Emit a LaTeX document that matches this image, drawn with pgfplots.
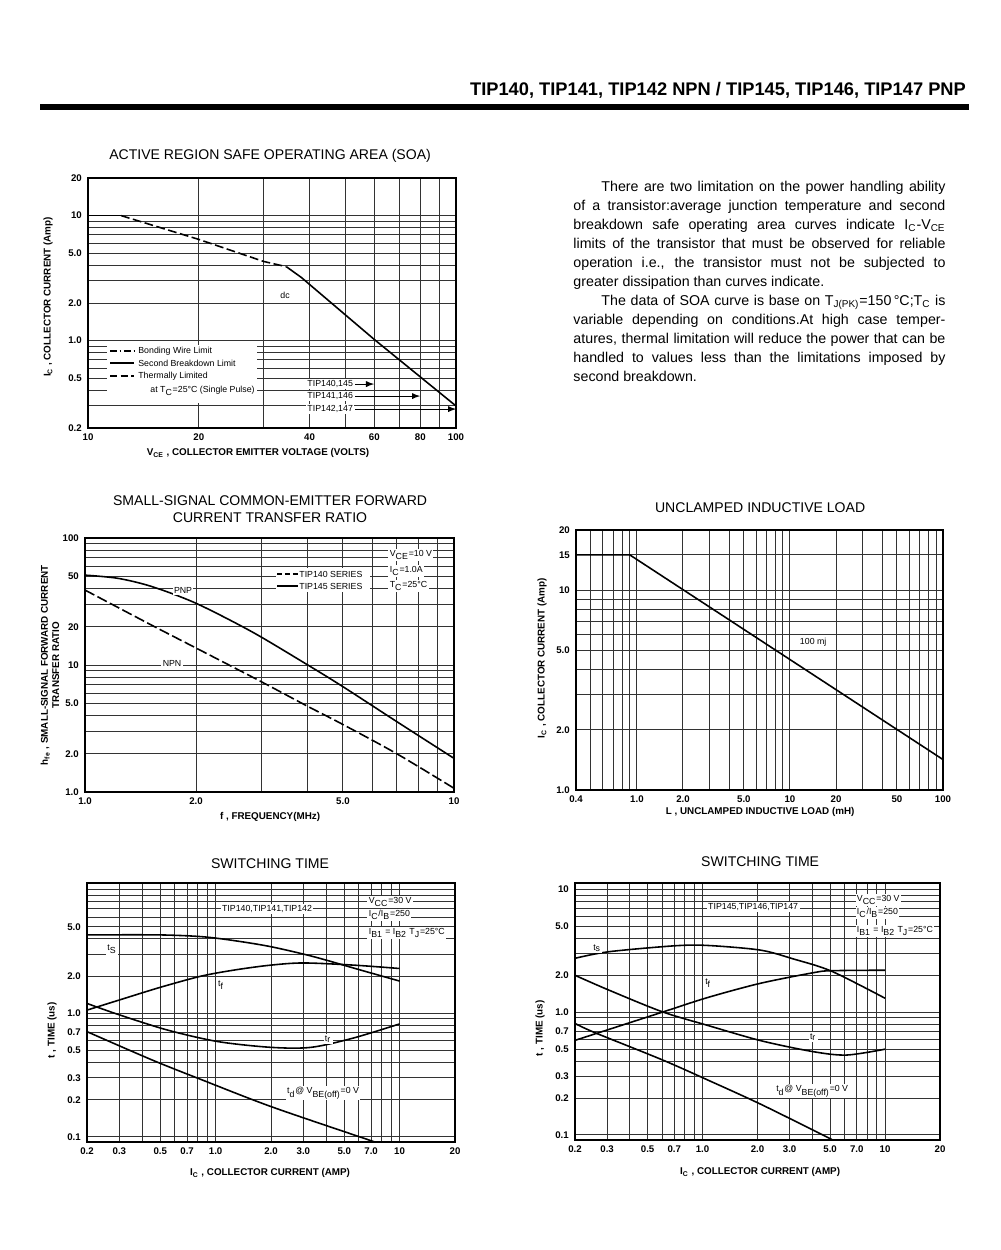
\documentclass[border=0pt]{standalone}
\usepackage{fontspec}
\setmainfont{Liberation Sans}
\usepackage{pgfplots}
\pgfplotsset{compat=1.18}

\newcommand\ticklab{\fontsize{5.5}{6}\selectfont\bfseries}
\newcommand\axlab{\fontsize{5.6}{6.5}\selectfont\bfseries}
\newcommand\ttl{\fontsize{8}{9.6}\selectfont}
\newcommand\note{\fontsize{5}{6}\selectfont}

\pgfplotsset{
  every axis/.append style={
    scale only axis,
    anchor=south west,
    grid=both,
    major grid style={black!80, line width=0.55pt},
    minor grid style={black!80, line width=0.55pt},
    major tick length=0pt, minor tick length=0pt,
    axis line style={black, line width=0.6pt},
    tick label style={font=\ticklab},
  },
}
\tikzset{curve/.style={black, line width=0.9pt}}

\begin{document}
\begin{tikzpicture}
\path[use as bounding box] (0,0) rectangle (20,25);

% --- SOA ---
\begin{axis}[xmode=log, ymode=log, at={(1.76cm,16.44cm)}, width=7.36cm, height=5.0cm,
  xmin=10, xmax=100, ymin=0.2, ymax=20,
  xtick={10,20,40,60,80,100}, xticklabels={10,20,40,60,80,100},
  minor xtick={30,50,70,90},
  ytick={0.2,0.5,1,2,5,10,20}, yticklabels={0.2,0.5,1.0,2.0,5.0,10,20},
  minor ytick={0.3,0.4,0.6,0.7,0.8,0.9,3,4,6,7,8,9}]
\addplot[curve, no marks] coordinates {(10,10) (12.3,10)};
\addplot[curve, no marks, dash pattern=on 5pt off 2pt] coordinates {(12.3,10) (20,6.45) (30,4.3) (34.6,3.9)};
\addplot[curve, no marks] coordinates {(34.6,3.9) (38,3.2) (60,1.02) (100,0.3)};
\end{axis}

% --- hfe ---
\begin{axis}[xmode=log, ymode=log, at={(1.70cm,9.16cm)}, width=7.38cm, height=5.08cm,
  xmin=1, xmax=10, ymin=1, ymax=100,
  xtick={1,2,5,10}, xticklabels={1.0,2.0,5.0,10},
  minor xtick={3,4,6,7,8,9},
  ytick={1,2,5,10,20,50,100}, yticklabels={1.0,2.0,5.0,10,20,50,100},
  minor ytick={3,4,6,7,8,9,30,40,60,70,80,90}]
\addplot[curve, no marks, smooth] coordinates {(1,51) (1.23,48.1) (1.52,41.4) (2,30.6) (2.83,18.3) (3.95,10.3) (5,6.75) (7,3.58) (10,1.84)};
\addplot[curve, no marks, smooth, dash pattern=on 6pt off 2pt] coordinates {(1,38.9) (1.52,20.5) (2,13.6) (3,7.4) (4,4.75) (5,3.4) (7,2.0) (10,1.07)};
\end{axis}

% --- Unclamped inductive load ---
\begin{axis}[xmode=log, ymode=log, at={(11.52cm,9.20cm)}, width=7.34cm, height=5.20cm,
  xmin=0.4, xmax=100, ymin=1, ymax=20,
  xtick={0.4,1,2,5,10,20,50,100}, xticklabels={0.4,1.0,2.0,5.0,10,20,50,100},
  minor xtick={0.5,0.6,0.7,0.8,0.9,3,4,6,7,8,9,30,40,60,70,80,90},
  ytick={1,2,5,10,15,20}, yticklabels={1.0,2.0,5.0,10,15,20},
  minor ytick={3,4,6,7,8,9}]
\addplot[curve, no marks] coordinates {(0.4,15) (0.9,15) (100,1.42)};
\end{axis}

% --- Switching time NPN ---
\begin{axis}[xmode=log, ymode=log, at={(1.74cm,2.16cm)}, width=7.36cm, height=5.18cm,
  xmin=0.2, xmax=20, ymin=0.091, ymax=11.3,
  xtick={0.2,0.3,0.5,0.7,1,2,3,5,7,10,20},
  xticklabels={0.2,0.3,0.5,0.7,1.0,2.0,3.0,5.0,7.0,10,20},
  minor xtick={0.4,0.6,0.8,0.9,4,6,8,9},
  ytick={0.1,0.2,0.3,0.5,0.7,1,2,5,10}, yticklabels={0.1,0.2,0.3,0.5,0.7,1.0,2.0,5.0,{}},
  minor ytick={0.4,0.6,0.8,0.9,3,4,6,7,8,9}]
\addplot[curve, no marks, smooth] coordinates {(0.2,4.3) (0.49,4.3) (0.84,4.16) (1.27,3.86) (2,3.45) (3.4,2.87) (6.1,2.24) (10,1.82)};
\addplot[curve, no marks, smooth] coordinates {(0.2,1.06) (0.3,1.28) (0.5,1.62) (0.84,2.0) (1.3,2.25) (2,2.45) (3,2.55) (5.6,2.45) (10,2.3)};
\addplot[curve, no marks, smooth] coordinates {(0.2,1.2) (0.3,0.97) (0.55,0.73) (1.03,0.59) (2,0.53) (3.3,0.53) (5.6,0.63) (10,0.82)};
\addplot[curve, no marks, smooth] coordinates {(0.2,0.71) (0.45,0.42) (0.84,0.29) (2,0.176) (6.6,0.096) (7.5,0.09)};
\end{axis}

% --- Switching time PNP ---
\begin{axis}[xmode=log, ymode=log, at={(11.50cm,2.20cm)}, width=7.30cm, height=5.14cm,
  xmin=0.2, xmax=20, ymin=0.091, ymax=11.3,
  xtick={0.2,0.3,0.5,0.7,1,2,3,5,7,10,20},
  xticklabels={0.2,0.3,0.5,0.7,1.0,2.0,3.0,5.0,7.0,10,20},
  minor xtick={0.4,0.6,0.8,0.9,4,6,8,9},
  ytick={0.1,0.2,0.3,0.5,0.7,1,2,5,10}, yticklabels={0.1,0.2,0.3,0.5,0.7,1.0,2.0,5.0,10},
  minor ytick={0.4,0.6,0.8,0.9,3,4,6,7,8,9}]
\addplot[curve, no marks, smooth] coordinates {(0.2,2.75) (0.305,3.11) (0.706,3.48) (1.07,3.5) (2.07,3.21) (3.14,2.72) (5.09,2.16) (10,1.3)};
\addplot[curve, no marks, smooth] coordinates {(0.2,0.59) (0.6,1.0) (1.07,1.32) (2.07,1.72) (4.05,2.1) (5.09,2.18) (10,2.2)};
\addplot[curve, no marks, smooth] coordinates {(0.2,2.0) (0.305,1.52) (0.6,1.01) (1.07,0.78) (2.1,0.585) (4.05,0.477) (6.15,0.448) (10,0.5)};
\addplot[curve, no marks, smooth] coordinates {(0.2,0.81) (0.258,0.68) (0.6,0.41) (1.07,0.28) (2.1,0.177) (5.1,0.092)};
\end{axis}

% --- page text, in pixel coordinates of the sheet ---
\begin{scope}[x=0.02cm, y=-0.02cm, shift={(0,25cm)}]
\node[anchor=east, font=\bfseries\fontsize{10.4}{12}\selectfont, inner sep=0] at (966,90)
  {TIP140, TIP141, TIP142 NPN / TIP145, TIP146, TIP147 PNP};
\fill (40,104) rectangle (969,110);

\node[anchor=north west, text width=7.44cm, align=justify, inner sep=0, font=\fontsize{8.1}{10.8}\selectfont] at (573,181) {%
\hyphenpenalty=10000\tolerance=9999\emergencystretch=2em
\hspace*{5.6mm}There are two limitation on the power handling ability\linebreak
of a transistor:average junction temperature and second\linebreak
breakdown safe operating area curves indicate I\textsubscript{C}-V\textsubscript{CE}\linebreak
limits of the transistor that must be observed for reliable\linebreak
operation i.e., the transistor must not be subjected to\linebreak
greater dissipation than curves indicate.\par
\hspace*{5.6mm}The data of SOA curve is base on T\textsubscript{J(PK)}=150\,°C;T\textsubscript{C} is\linebreak
variable depending on conditions.At high case temper-\linebreak
atures, thermal limitation will reduce the power that can be\linebreak
handled to values less than the limitations imposed by\linebreak
second breakdown.};

% titles
\node[font=\ttl] at (270,156) {ACTIVE REGION SAFE OPERATING AREA (SOA)};
\node[font=\ttl, align=center] at (270,509) {SMALL-SIGNAL COMMON-EMITTER FORWARD\\CURRENT TRANSFER RATIO};
\node[font=\ttl] at (760,508) {UNCLAMPED INDUCTIVE LOAD};
\node[font=\ttl] at (270,863) {SWITCHING TIME};
\node[font=\ttl] at (760,861) {SWITCHING TIME};

% axis labels
\node[font=\axlab] at (258,453) {V\textsubscript{CE} , COLLECTOR EMITTER VOLTAGE (VOLTS)};
\node[font=\axlab, rotate=90] at (48,297) {I\textsubscript{C} , COLLECTOR CURRENT (Amp)};
\node[font=\axlab] at (270,817) {f , FREQUENCY(MHz)};
\node[font=\axlab, rotate=90, align=center] at (50,665) {h\textsubscript{fe} , SMALL-SIGNAL FORWARD CURRENT\\TRANSFER RATIO};
\node[font=\axlab] at (760,812) {L , UNCLAMPED INDUCTIVE LOAD (mH)};
\node[font=\axlab, rotate=90] at (542,658) {I\textsubscript{C} , COLLECTOR CURRENT (Amp)};
\node[font=\axlab] at (270,1173) {I\textsubscript{C} , COLLECTOR CURRENT (AMP)};
\node[font=\axlab, rotate=90] at (52,1030) {t , TIME (us)};
\node[font=\axlab] at (760,1172) {I\textsubscript{C} , COLLECTOR CURRENT (AMP)};
\node[font=\axlab, rotate=90] at (540,1028) {t , TIME (us)};

% SOA legend and notes
\fill[white] (107,345) rectangle (257,403);
\draw[line width=0.8pt, dash pattern=on 4pt off 1.5pt on 1pt off 1.5pt] (110,351) -- (134,351);
\draw[line width=0.8pt] (110,363) -- (134,363);
\draw[line width=0.8pt, dash pattern=on 4pt off 2pt] (110,376) -- (134,376);
\node[font=\note, anchor=west, inner sep=0] at (138,351) {Bonding Wire Limit};
\node[font=\note, anchor=west, inner sep=0] at (138,363) {Second Breakdown Limit};
\node[font=\note, anchor=west, inner sep=0] at (138,376) {Thermally Limited};
\node[font=\note, anchor=west, inner sep=0] at (150,391) {at T\textsubscript{C}=25°C (Single Pulse)};
\node[font=\note] at (285,295) {dc};
\node[font=\note, anchor=west, fill=white, inner sep=0.6pt] at (306,384) {TIP140,145};
\node[font=\note, anchor=west, fill=white, inner sep=0.6pt] at (306,396) {TIP141,146};
\node[font=\note, anchor=west, fill=white, inner sep=0.6pt] at (306,409) {TIP142,147};
\draw[-latex, line width=0.6pt] (355,384) -- (374,384);
\draw[-latex, line width=0.6pt] (355,396) -- (420,396);
\draw[-latex, line width=0.6pt] (355,409) -- (456,409);

% hfe notes
\node[font=\note, fill=white, inner sep=0.8pt] at (183,590) {PNP};
\node[font=\note, fill=white, inner sep=0.8pt] at (172,663) {NPN};
\fill[white] (276,568) rectangle (370,592);
\draw[line width=0.8pt, dash pattern=on 3pt off 1.5pt] (277,574) -- (298,574);
\draw[line width=0.8pt] (277,586) -- (298,586);
\node[font=\note, anchor=west, inner sep=0] at (299,574) {TIP140 SERIES};
\node[font=\note, anchor=west, inner sep=0] at (299,586) {TIP145 SERIES};
\node[font=\note, anchor=west, fill=white, inner sep=0.8pt] at (388,555) {V\textsubscript{CE}=10 V};
\node[font=\note, anchor=west, fill=white, inner sep=0.8pt] at (388,571) {I\textsubscript{C}=1.0A};
\node[font=\note, anchor=west, fill=white, inner sep=0.8pt] at (388,586) {T\textsubscript{C}=25°C};

% unclamped note
\node[font=\note, fill=white, inner sep=0.8pt] at (813,642) {100 mj};

% switching NPN notes
\node[font=\note, fill=white, inner sep=0.8pt] at (267,909) {TIP140,TIP141,TIP142};
\node[font=\note, anchor=west, fill=white, inner sep=0.8pt] at (367,902) {V\textsubscript{CC}=30 V};
\node[font=\note, anchor=west, fill=white, inner sep=0.8pt] at (367,915) {I\textsubscript{C}/I\textsubscript{B}=250};
\node[font=\note, anchor=west, fill=white, inner sep=0.8pt] at (367,933) {I\textsubscript{B1} = I\textsubscript{B2} T\textsubscript{J}=25°C};
\node[font=\note, fill=white, inner sep=0.8pt] at (112,949) {t\textsubscript{S}};
\node[font=\note, fill=white, inner sep=0.8pt] at (221,985) {t\textsubscript{f}};
\node[font=\note, fill=white, inner sep=0.8pt] at (328,1039) {t\textsubscript{r}};
\node[font=\note, fill=white, inner sep=0.8pt] at (323,1093) {t\textsubscript{d}@ V\textsubscript{BE(off)}=0 V};

% switching PNP notes
\node[font=\note, fill=white, inner sep=0.8pt] at (753,907) {TIP145,TIP146,TIP147};
\node[font=\note, anchor=west, fill=white, inner sep=0.8pt] at (855,900) {V\textsubscript{CC}=30 V};
\node[font=\note, anchor=west, fill=white, inner sep=0.8pt] at (855,913) {I\textsubscript{C}/I\textsubscript{B}=250};
\node[font=\note, anchor=west, fill=white, inner sep=0.8pt] at (855,931) {I\textsubscript{B1} = I\textsubscript{B2} T\textsubscript{J}=25°C};
\node[font=\note, fill=white, inner sep=0.8pt] at (597,948) {t\textsubscript{s}};
\node[font=\note, fill=white, inner sep=0.8pt] at (708,983) {t\textsubscript{f}};
\node[font=\note, fill=white, inner sep=0.8pt] at (813,1037) {t\textsubscript{r}};
\node[font=\note, fill=white, inner sep=0.8pt] at (812,1091) {t\textsubscript{d}@ V\textsubscript{BE(off)}=0 V};
\end{scope}
\end{tikzpicture}
\end{document}
